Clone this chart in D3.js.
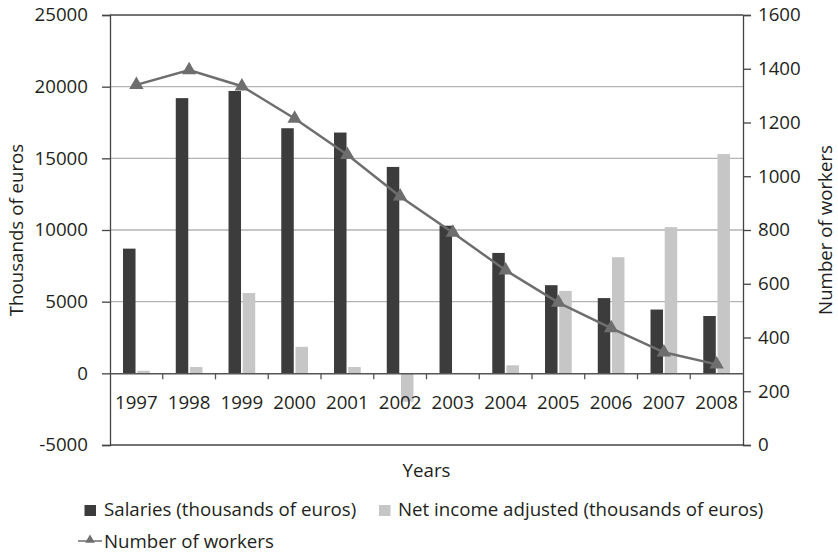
<!DOCTYPE html>
<html>
<head>
<meta charset="utf-8">
<script src="https://cdn.jsdelivr.net/npm/d3@7"></script>
<style>
  body { margin: 0; background: #fff; }
  svg text { font-family: "Open Sans", sans-serif; fill: #231f20; }
</style>
</head>
<body>
<svg id="chart"></svg>
<script>
const years = ["1997", "1998", "1999", "2000", "2001", "2002", "2003", "2004", "2005", "2006", "2007", "2008"];
const salaries = [8700, 19200, 19700, 17100, 16800, 14400, 10300, 8400, 6150, 5250, 4450, 4000];
const netIncome = [180, 440, 5600, 1850, 440, -1980, 30, 560, 5750, 8100, 10200, 15300];
const workers = [1340, 1395, 1335, 1215, 1080, 925, 790, 650, 530, 435, 345, 300];
const leftTicks = [-5000, 0, 5000, 10000, 15000, 20000, 25000];
const rightTicks = [0, 200, 400, 600, 800, 1000, 1200, 1400, 1600];

const W = 838, H = 554;
const margin = { top: 15, right: 95, bottom: 109, left: 110 },
  width = W - margin.left - margin.right,
  height = H - margin.top - margin.bottom;

const svg = d3.select("#chart").attr("width", W).attr("height", H);
const chart = svg.append("g").attr("transform", `translate(${margin.left},${margin.top})`);

const x = d3.scaleBand().domain(years).range([0, width]);
const y = d3.scaleLinear().domain([-5000, 25000]).range([height, 0]);
const y2 = d3.scaleLinear().domain([0, 1600]).range([height, 0]);

const dark = "#3c3c3c", light = "#c6c6c6", lineCol = "#6e6e6e", axisCol = "#444";
const fs = 18.7;

// gridlines
chart.append("g").selectAll("line")
  .data([5000, 10000, 15000, 20000])
  .enter().append("line")
  .attr("x1", 0).attr("x2", width)
  .attr("y1", d => y(d)).attr("y2", d => y(d))
  .attr("stroke", "#b3b3b3").attr("stroke-width", 1.3);

// top and bottom border
chart.append("line").attr("x1", 0).attr("x2", width).attr("y1", 0).attr("y2", 0)
  .attr("stroke", axisCol).attr("stroke-width", 1.3);
chart.append("line").attr("x1", 0).attr("x2", width).attr("y1", height).attr("y2", height)
  .attr("stroke", axisCol).attr("stroke-width", 1.3);

// bars
const barW = 12.5, gap = 1.7;
const inner = barW * 2 + gap;
const off = (x.bandwidth() - inner) / 2;

chart.append("g").selectAll("rect")
  .data(years.map((yr, i) => ({ yr, v: salaries[i] })))
  .enter().append("rect")
  .attr("x", d => x(d.yr) + off)
  .attr("y", d => y(Math.max(0, d.v)))
  .attr("width", barW)
  .attr("height", d => Math.abs(y(d.v) - y(0)))
  .attr("fill", dark);

chart.append("g").selectAll("rect")
  .data(years.map((yr, i) => ({ yr, v: netIncome[i] })))
  .enter().append("rect")
  .attr("x", d => x(d.yr) + off + barW + gap)
  .attr("y", d => y(Math.max(0, d.v)))
  .attr("width", barW)
  .attr("height", d => Math.abs(y(d.v) - y(0)))
  .attr("fill", light);

// left axis
const yAxis = chart.append("g")
  .call(d3.axisLeft(y).tickValues(leftTicks).tickSize(8).tickPadding(14).tickFormat(d => String(d)));
yAxis.select(".domain").attr("stroke", axisCol).attr("stroke-width", 1.3);
yAxis.selectAll(".tick line").attr("stroke", axisCol).attr("stroke-width", 1.3);
yAxis.selectAll("text").style("font-size", fs + "px").style("font-family", "Open Sans").attr("fill", "#231f20");

// right axis
const y2Axis = chart.append("g")
  .attr("transform", `translate(${width},0)`)
  .call(d3.axisRight(y2).tickValues(rightTicks).tickSize(8).tickPadding(7).tickFormat(d => String(d)));
y2Axis.select(".domain").attr("stroke", axisCol).attr("stroke-width", 1.3);
y2Axis.selectAll(".tick line").attr("stroke", axisCol).attr("stroke-width", 1.3);
y2Axis.selectAll("text").style("font-size", fs + "px").style("font-family", "Open Sans").attr("fill", "#231f20");

// x axis at zero
const xAxis = chart.append("g")
  .attr("transform", `translate(0,${y(0)})`)
  .call(d3.axisBottom(x).tickSize(0).tickPadding(22));
xAxis.select(".domain").attr("stroke", "#555").attr("stroke-width", 1.5);
xAxis.selectAll("text").style("font-size", fs + "px").style("font-family", "Open Sans").attr("fill", "#231f20");
xAxis.append("g").selectAll("line")
  .data(years.slice(1))
  .enter().append("line")
  .attr("x1", d => x(d)).attr("x2", d => x(d))
  .attr("y1", 0).attr("y2", 6)
  .attr("stroke", "#555").attr("stroke-width", 1.3);

// workers line
const line = d3.line()
  .x((d, i) => x(years[i]) + x.bandwidth() / 2)
  .y(d => y2(d));
chart.append("path")
  .datum(workers)
  .attr("d", line)
  .attr("fill", "none")
  .attr("stroke", lineCol)
  .attr("stroke-width", 2.5);

const tri = d3.symbol().type(d3.symbolTriangle).size(90);
chart.append("g").selectAll("path")
  .data(workers)
  .enter().append("path")
  .attr("d", tri)
  .attr("transform", (d, i) => `translate(${x(years[i]) + x.bandwidth() / 2},${y2(d)})`)
  .attr("fill", lineCol);

// axis titles
svg.append("text")
  .attr("transform", `translate(23,${margin.top + height / 2}) rotate(-90)`)
  .attr("text-anchor", "middle")
  .style("font-size", fs + "px")
  .text("Thousands of euros");

svg.append("text")
  .attr("transform", `translate(832,${margin.top + height / 2}) rotate(-90)`)
  .attr("text-anchor", "middle")
  .style("font-size", fs + "px")
  .text("Number of workers");

svg.append("text")
  .attr("x", margin.left + width / 2)
  .attr("y", 477)
  .attr("text-anchor", "middle")
  .style("font-size", fs + "px")
  .text("Years");

// legend
const legend = svg.append("g");
legend.append("rect").attr("x", 84.5).attr("y", 505).attr("width", 11.5).attr("height", 11).attr("fill", dark);
legend.append("text").attr("x", 104).attr("y", 516).style("font-size", fs + "px")
  .text("Salaries (thousands of euros)");
legend.append("rect").attr("x", 379).attr("y", 505).attr("width", 11.5).attr("height", 11).attr("fill", light);
legend.append("text").attr("x", 398).attr("y", 516).style("font-size", fs + "px")
  .text("Net income adjusted (thousands of euros)");
legend.append("line").attr("x1", 78).attr("x2", 102).attr("y1", 541).attr("y2", 541)
  .attr("stroke", lineCol).attr("stroke-width", 1.5);
legend.append("path").attr("d", d3.symbol().type(d3.symbolTriangle).size(40))
  .attr("transform", "translate(90,540)").attr("fill", lineCol);
legend.append("text").attr("x", 104).attr("y", 548).style("font-size", fs + "px")
  .text("Number of workers");
</script>
</body>
</html>
